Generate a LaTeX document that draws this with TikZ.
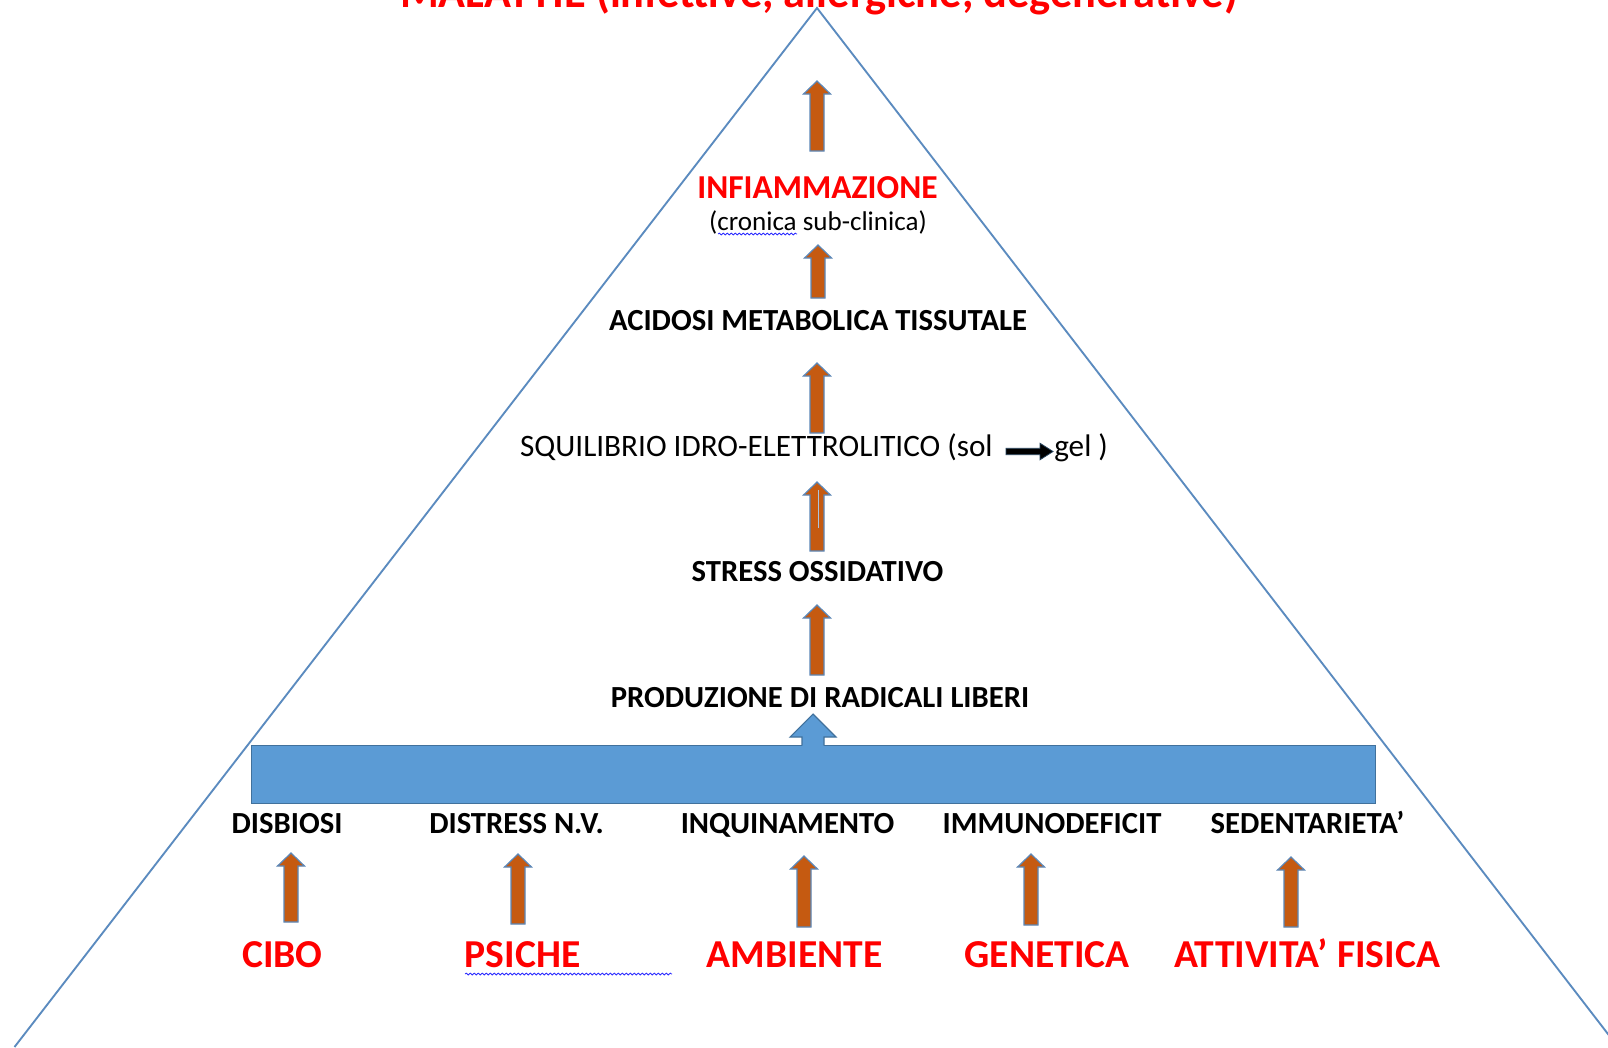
\documentclass[tikz,border=0pt]{standalone}
\usepackage{fontspec}
\setmainfont{Carlito}
\usetikzlibrary{calc,decorations.pathmorphing}
\definecolor{triline}{HTML}{5B8BBF}
\definecolor{arrfill}{HTML}{C55A11}
\definecolor{arrline}{HTML}{5B87B8}
\definecolor{barfill}{HTML}{5B9BD5}
\definecolor{barline}{HTML}{41719C}
\definecolor{wordred}{HTML}{FF0000}
\definecolor{spell}{HTML}{2B2BFF}
% #1 bottom coord, #2 tip coord  (orange block arrow pointing up)
\newcommand\OrangeUp[2]{%
  \path[orangearrow] let \p1=(#1), \p2=(#2) in
    (\x1-5.25pt,\y1) -- (\x1+5.25pt,\y1) -- (\x1+5.25pt,\y2-9.75pt) -- (\x1+10.1pt,\y2-9.75pt) -- (\x1,\y2)
    -- (\x1-10.1pt,\y2-9.75pt) -- (\x1-5.25pt,\y2-9.75pt) -- cycle;}
\tikzset{
  orangearrow/.style={fill=arrfill, draw=arrline, line width=0.9pt, line join=miter},
  lbl/.style={inner sep=0pt, font=\bfseries\fontsize{23}{27}\selectfont},
  reg/.style={inner sep=0pt, font=\fontsize{23.4}{28}\selectfont},
  smalltext/.style={inner sep=0pt, font=\fontsize{20.3}{24}\selectfont},
  redmid/.style={inner sep=0pt, text=wordred, font=\bfseries\fontsize{25.1}{30}\selectfont},
  redbot/.style={inner sep=0pt, text=wordred, font=\bfseries\fontsize{29.7}{35}\selectfont},
  titletext/.style={inner sep=0pt, text=wordred, font=\bfseries\fontsize{33.3}{40}\selectfont},
  squiggle/.style={draw=spell, line width=0.6pt, decorate,
    decoration={snake, amplitude=0.7pt, segment length=3pt}},
}
\begin{document}
\begin{tikzpicture}[x=0.75pt,y=-0.75pt]
\useasboundingbox (0,0) rectangle (1608,1047);
\fill[white] (0,0) rectangle (1608,1047);

% pyramid
\coordinate (apex) at (817,8);
\coordinate (baseL) at (14.5,1047);
\coordinate (baseR) at (1618,1047);
\draw[triline, line width=1.4pt] (baseL) -- (apex) -- (baseR);

% title (cut by the top edge)
\node[titletext, anchor=base] (title) at (819,7.5) {MALATTIE (infettive, allergiche, degenerative)};

% central column
\node[redmid, anchor=base] (infl) at (817.5,198) {INFIAMMAZIONE};
\node[smalltext, anchor=base] (cron) at (818,230) {(cronica sub-clinica)};
\node[lbl, anchor=base] (acid) at (818,330) {ACIDOSI METABOLICA TISSUTALE};
\node[reg, anchor=base east] (sqa) at (993,456) {SQUILIBRIO IDRO-ELETTROLITICO (sol};
\node[reg, anchor=base west] (sqb) at (1054,456) {gel )};
\node[lbl, anchor=base] (stress) at (817.5,581) {STRESS OSSIDATIVO};
\node[lbl, anchor=base] (prod) at (820,707) {PRODUZIONE DI RADICALI LIBERI};

% spell-check squiggles
\coordinate (sqA) at (718,234); \coordinate (sqB) at (797,234);
\draw[squiggle] (sqA) -- (sqB);

% black arrow sol -> gel
\coordinate (solA) at (1006,451.5);
\coordinate (solB) at (1053,451.5);
\path[fill=black, draw=barline!60!black, line width=0.6pt] let \p1=(solA), \p2=(solB) in
  (\x1,\y1+2.4pt) -- (\x2-9.75pt,\y1+2.4pt) -- (\x2-9.75pt,\y1+6.2pt) -- (\x2,\y1)
  -- (\x2-9.75pt,\y1-6.2pt) -- (\x2-9.75pt,\y1-2.4pt) -- (\x1,\y1-2.4pt) -- cycle;

% central orange arrows
\coordinate (aZb) at (817,151); \coordinate (aZt) at (817,81);
\coordinate (aAb) at (818,298); \coordinate (aAt) at (818,245);
\coordinate (aBb) at (817,433); \coordinate (aBt) at (817,363);
\coordinate (aCb) at (817,551); \coordinate (aCt) at (817,482);
\coordinate (aDb) at (817,675); \coordinate (aDt) at (817,605);
\OrangeUp{aZb}{aZt}
\OrangeUp{aAb}{aAt}
\OrangeUp{aBb}{aBt}
\OrangeUp{aCb}{aCt}
\OrangeUp{aDb}{aDt}
\draw[arrline!50!white, line width=0.7pt] (818.5,490) -- (818.5,528);

% bar with its arrow
\node[fill=barfill, draw=barline, line width=0.8pt, inner sep=0pt,
      anchor=north west, minimum width=843pt, minimum height=43.5pt] (bar) at (251,745) {};
\coordinate (barb) at (813,745.5);
\coordinate (bart) at (813,714);
\fill[barfill] let \p1=(barb), \p2=(bart) in
  (\x1-8.25pt,\y1-1.2pt) -- (\x1+8.25pt,\y1-1.2pt) -- (\x1+8.25pt,\y2-17.25pt) -- (\x1+17.25pt,\y2-17.25pt)
  -- (\x1,\y2) -- (\x1-17.25pt,\y2-17.25pt) -- (\x1-8.25pt,\y2-17.25pt) -- cycle;
\draw[barline, line width=0.8pt, line join=miter] let \p1=(barb), \p2=(bart) in
  (\x1-8.25pt,\y1) -- (\x1-8.25pt,\y2-17.25pt) -- (\x1-17.25pt,\y2-17.25pt) -- (\x1,\y2)
  -- (\x1+17.25pt,\y2-17.25pt) -- (\x1+8.25pt,\y2-17.25pt) -- (\x1+8.25pt,\y1);

% row of causes
\node[lbl, anchor=base] (disb) at (287,833) {DISBIOSI};
\node[lbl, anchor=base] (distr) at (516.5,833) {DISTRESS N.V.};
\node[lbl, anchor=base] (inq) at (787.5,833) {INQUINAMENTO};
\node[lbl, anchor=base] (imm) at (1052,833) {IMMUNODEFICIT};
\node[lbl, anchor=base] (sed) at (1307.5,833) {SEDENTARIETA’};

% row of factors
\node[redbot, anchor=base] (cibo) at (282.5,967) {CIBO};
\node[redbot, anchor=base] (psiche) at (522.5,967) {PSICHE};
\node[redbot, anchor=base] (amb) at (794.5,967) {AMBIENTE};
\node[redbot, anchor=base] (gen) at (1047,967) {GENETICA};
\node[redbot, anchor=base] (att) at (1307,967) {ATTIVITA’ FISICA};

\coordinate (sqC) at (465,974); \coordinate (sqD) at (672,974);
\draw[squiggle] (sqC) -- (sqD);

% bottom orange arrows
\coordinate (bAb) at (291,922);  \coordinate (bAt) at (291,853);
\coordinate (bBb) at (518,924);  \coordinate (bBt) at (518,854);
\coordinate (bCb) at (804,927);  \coordinate (bCt) at (804,856);
\coordinate (bDb) at (1031,925); \coordinate (bDt) at (1031,854);
\coordinate (bEb) at (1291,927); \coordinate (bEt) at (1291,857);
\OrangeUp{bAb}{bAt}
\OrangeUp{bBb}{bBt}
\OrangeUp{bCb}{bCt}
\OrangeUp{bDb}{bDt}
\OrangeUp{bEb}{bEt}
\end{tikzpicture}
\end{document}
